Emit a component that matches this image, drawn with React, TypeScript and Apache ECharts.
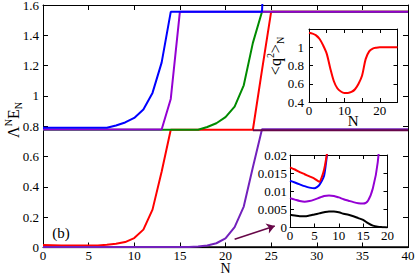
import React, { useEffect, useRef } from "react";
import * as echarts from "echarts";

// ---------- main panel data ----------
const mainN = [0, 1, 2, 3, 4, 5, 6, 7, 8, 9, 10, 11, 12, 13, 14, 15, 16, 17, 18, 19, 20, 21, 22, 23, 24, 25, 26, 27, 28, 29, 30, 31, 32, 33, 34, 35, 36, 37, 38, 39, 40];
const maroonN = [23, 24, 25, 26, 27, 28, 29, 30, 31, 32, 33, 34, 35, 36, 37, 38, 39, 40];
const maroonMain = [0.773, 0.773, 0.773, 0.773, 0.773, 0.773, 0.773, 0.773, 0.773, 0.773, 0.773, 0.773, 0.773, 0.773, 0.773, 0.773, 0.773, 0.773];
const blackMain = [0.001, 0.001, 0.001, 0.001, 0.001, 0.001, 0.001, 0.001, 0.001, 0.001, 0.001, 0.001, 0.001, 0.001, 0.001, 0.001, 0.001, 0.001, 0.001, 0.001, 0.001, 0.001, 0.001, 0.001, 0.001, 0.001, 0.001, 0.001, 0.001, 0.001, 0.001, 0.001, 0.001, 0.001, 0.001, 0.001, 0.001, 0.001, 0.001, 0.001, 0.001];
const redMain = [0.016, 0.015, 0.014, 0.014, 0.013, 0.013, 0.013, 0.018, 0.025, 0.036, 0.062, 0.118, 0.25, 0.5, 0.777, 0.777, 0.777, 0.777, 0.777, 0.777, 0.777, 0.777, 0.777, 0.777, 1.17, 1.555, 1.555, 1.555, 1.555, 1.555, 1.555, 1.555, 1.555, 1.555, 1.555, 1.555, 1.555, 1.555, 1.555, 1.555, 1.555];
const greenMain = [0.777, 0.777, 0.777, 0.777, 0.777, 0.777, 0.777, 0.777, 0.777, 0.777, 0.777, 0.777, 0.777, 0.777, 0.777, 0.777, 0.777, 0.777, 0.795, 0.82, 0.86, 0.93, 1.07, 1.35, 1.555, 1.555, 1.555, 1.555, 1.555, 1.555, 1.555, 1.555, 1.555, 1.555, 1.555, 1.555, 1.555, 1.555, 1.555, 1.555, 1.555];
const indigoMain = [0.003, 0.003, 0.003, 0.003, 0.003, 0.003, 0.003, 0.003, 0.003, 0.003, 0.003, 0.003, 0.003, 0.003, 0.003, 0.003, 0.003, 0.006, 0.013, 0.028, 0.06, 0.135, 0.27, 0.53, 0.78, 0.78, 0.78, 0.78, 0.78, 0.78, 0.78, 0.78, 0.78, 0.78, 0.78, 0.78, 0.78, 0.78, 0.78, 0.78, 0.78];
const violetMain = [0.778, 0.778, 0.778, 0.778, 0.778, 0.778, 0.778, 0.778, 0.778, 0.778, 0.778, 0.778, 0.778, 0.778, 0.98, 1.555, 1.555, 1.555, 1.555, 1.555, 1.555, 1.555, 1.555, 1.555, 1.555, 1.555, 1.555, 1.555, 1.555, 1.555, 1.555, 1.555, 1.555, 1.555, 1.555, 1.555, 1.555, 1.555, 1.555, 1.555, 1.555];
const blueMain = [0.79, 0.79, 0.79, 0.79, 0.79, 0.79, 0.79, 0.79, 0.805, 0.825, 0.855, 0.91, 1.02, 1.22, 1.555, 1.555, 1.555, 1.555, 1.555, 1.555, 1.555, 1.555, 1.555, 1.555, 1.555, 3.0];
const arrowFrom = [21.0, 0.054];
const arrowTo = [25.4, 0.142];

// ---------- inset (top) data ----------
const inset1N = [0, 1, 2, 3, 4, 5, 6, 7, 8, 9, 10, 11, 12, 13, 14, 15, 16, 17, 18, 19, 20, 21, 22, 23, 24, 25];
const inset1Red = [1.16, 1.15, 1.13, 1.09, 1.02, 0.93, 0.77, 0.63, 0.55, 0.515, 0.5, 0.5, 0.51, 0.54, 0.6, 0.69, 0.87, 0.955, 0.985, 0.995, 1.0, 1.0, 1.0, 1.0, 1.0, 1.0];

// ---------- inset (bottom) data ----------
const inset2N = [0, 1, 2, 3, 4, 5, 6, 7, 8, 9, 10, 11, 12, 13, 14, 15, 16, 17, 18, 19, 20];
const inset2Black = [0.0035, 0.0033, 0.0031, 0.0031, 0.0033, 0.0036, 0.0039, 0.0042, 0.0044, 0.0044, 0.0042, 0.0038, 0.0035, 0.0031, 0.0026, 0.0021, 0.0012, 0.0005, 0.0002, 0.0001, 0.0];
const inset2Violet = [0.0081, 0.0077, 0.0073, 0.0071, 0.0073, 0.0077, 0.0082, 0.0087, 0.0088, 0.0087, 0.0083, 0.0078, 0.0074, 0.007, 0.0067, 0.0066, 0.0074, 0.0108, 0.018, 0.035];
const inset2Blue = [0.0129, 0.0124, 0.0119, 0.0114, 0.011, 0.0108, 0.0117, 0.0143, 0.025];
const inset2Red = [0.0166, 0.016, 0.0153, 0.0147, 0.0141, 0.0135, 0.0126, 0.016, 0.024];

const FONT = "Liberation Serif";
const C = {
  red: "#ff0000",
  green: "#008b00",
  blue: "#0000ff",
  violet: "#9400d3",
  indigo: "#7221bc",
  maroon: "#670748",
  black: "#000000",
};

const pairs = (xs: number[], ys: number[]) => ys.map((y, i) => [xs[i], y]);

function frameAxes(grid: number, xmin: number, xmax: number, xint: number, ymin: number, ymax: number, yint: number, opts: any) {
  const tick = { show: true, inside: true, length: opts.tickLen, lineStyle: { color: "#000", width: 1 } };
  const line = { show: true, onZero: false, lineStyle: { color: "#000", width: 1 } };
  const lbl = { fontFamily: FONT, fontSize: opts.fontSize, color: "#000" };
  const xAxes = [
    {
      type: "value", gridIndex: grid, min: xmin, max: xmax, interval: xint, position: "bottom",
      axisLine: line, axisTick: tick, splitLine: { show: false },
      axisLabel: { ...lbl, margin: opts.xMargin, formatter: opts.xFormatter },
      name: opts.xName, nameLocation: "middle", nameGap: opts.xNameGap, nameMoveOverlap: false,
      nameTextStyle: { fontFamily: FONT, fontSize: opts.nameSize, color: "#000" },
    },
    {
      type: "value", gridIndex: grid, min: xmin, max: xmax, interval: xint, position: "top",
      axisLine: line, axisTick: tick, splitLine: { show: false }, axisLabel: { show: false },
    },
  ];
  const yAxes = [
    {
      type: "value", gridIndex: grid, min: ymin, max: ymax, interval: yint, position: "left",
      axisLine: line, axisTick: tick, splitLine: { show: false },
      axisLabel: { ...lbl, margin: opts.yMargin, showMaxLabel: opts.showMaxY },
    },
    {
      type: "value", gridIndex: grid, min: ymin, max: ymax, interval: yint, position: "right",
      axisLine: line, axisTick: tick, splitLine: { show: false }, axisLabel: { show: false },
    },
  ];
  return { xAxes, yAxes };
}

function line(name: string, data: any[], color: string, xi: number, yi: number, extra: any = {}) {
  return {
    type: "line", name, data, xAxisIndex: xi, yAxisIndex: yi,
    showSymbol: false, symbol: "none", clip: true,
    lineStyle: { color, width: 2 }, itemStyle: { color },
    ...extra,
  };
}

export default function App() {
  const ref = useRef<HTMLDivElement>(null);
  useEffect(() => {
    if (!ref.current) return;
    const chart = echarts.init(ref.current, undefined, { renderer: "svg" });
    const main = frameAxes(0, 0, 40, 5, 0, 1.6, 0.2, {
      tickLen: 5, fontSize: 13, xMargin: 1, yMargin: 4, xName: "N", xNameGap: 14, nameSize: 14, showMaxY: true,
    });
    const in1 = frameAxes(1, 0, 25, 5, 0.4, 1.2, 0.2, {
      tickLen: 4, fontSize: 13, xMargin: 2, yMargin: 5, xName: "N", xNameGap: 11, nameSize: 15, showMaxY: false,
      xFormatter: (v: number) => (v % 10 === 0 ? String(v) : ""),
    });
    const in2 = frameAxes(2, 0, 20, 5, 0, 0.02, 0.005, {
      tickLen: 4, fontSize: 13, xMargin: 1, yMargin: 3, xName: "", xNameGap: 12, nameSize: 13, showMaxY: true,
    });

    const option: any = {
      animation: false,
      backgroundColor: "#ffffff",
      textStyle: { fontFamily: FONT },
      grid: [
        { left: 43, top: 5, width: 365, height: 242.5, containLabel: false, outerBoundsMode: "none" },
        { left: 309, top: 29, width: 88.5, height: 73, show: true, backgroundColor: "#fff", borderWidth: 0, containLabel: false, outerBoundsMode: "none" },
        { left: 290, top: 155, width: 97.5, height: 72.5, show: true, backgroundColor: "#fff", borderWidth: 0, containLabel: false, outerBoundsMode: "none" },
      ],
      xAxis: [...main.xAxes, ...in1.xAxes, ...in2.xAxes],
      yAxis: [...main.yAxes, ...in1.yAxes, ...in2.yAxes],
      series: [
        line("black", pairs(mainN, blackMain), C.black, 0, 0),
        line("red", pairs(mainN, redMain), C.red, 0, 0),
        line("green", pairs(mainN, greenMain), C.green, 0, 0),
        line("indigo", pairs(mainN, indigoMain), C.indigo, 0, 0),
        line("maroon", pairs(maroonN, maroonMain), C.maroon, 0, 0, {
          markLine: {
            silent: true,
            symbol: ["none", "arrow"],
            symbolSize: 8,
            label: { show: false },
            lineStyle: { color: C.maroon, width: 1.5, type: "solid" },
            data: [[{ coord: arrowFrom }, { coord: arrowTo }]],
          },
        }),
        line("violet", pairs(mainN, violetMain), C.violet, 0, 0),
        line("blue", pairs(mainN, blueMain), C.blue, 0, 0),
        line("q2", pairs(inset1N, inset1Red), C.red, 2, 2, { smooth: 0.3 }),
        line("i2black", pairs(inset2N, inset2Black), C.black, 4, 4, { smooth: 0.3 }),
        line("i2violet", pairs(inset2N, inset2Violet), C.violet, 4, 4, { smooth: 0.3 }),
        line("i2blue", pairs(inset2N, inset2Blue), C.blue, 4, 4, { smooth: 0.2 }),
        line("i2red", pairs(inset2N, inset2Red), C.red, 4, 4, { smooth: 0.2 }),
      ],
      graphic: [
        {
          type: "text", x: 13, y: 120, rotation: Math.PI / 2,
          style: {
            text: "{a|Λ}{s|N}{a|E}{b|N}",
            align: "center", verticalAlign: "middle", fill: "#000",
            rich: {
              a: { fontFamily: FONT, fontSize: 16, lineHeight: 20, fill: "#000" },
              s: { fontFamily: FONT, fontSize: 10, lineHeight: 20, verticalAlign: "top", fill: "#000" },
              b: { fontFamily: FONT, fontSize: 10, lineHeight: 20, verticalAlign: "bottom", fill: "#000" },
            },
          },
        },
        {
          type: "text", x: 275, y: 56, rotation: Math.PI / 2,
          style: {
            text: "{a|<q}{s|2}{a|>}{b|N}",
            align: "center", verticalAlign: "middle", fill: "#000",
            rich: {
              a: { fontFamily: FONT, fontSize: 16, lineHeight: 20, fill: "#000" },
              s: { fontFamily: FONT, fontSize: 10, lineHeight: 20, verticalAlign: "top", fill: "#000" },
              b: { fontFamily: FONT, fontSize: 10, lineHeight: 20, verticalAlign: "bottom", fill: "#000" },
            },
          },
        },
        {
          type: "text", x: 61, y: 233,
          style: { text: "(b)", fontFamily: FONT, fontSize: 15, fill: "#000", align: "center", verticalAlign: "middle" },
        },
      ],
    };
    chart.setOption(option);
    return () => chart.dispose();
  }, []);
  return (
    <div
      ref={ref}
      style={{ position: "fixed", left: 0, top: 0, width: 415, height: 275, background: "#fff" }}
    />
  );
}
